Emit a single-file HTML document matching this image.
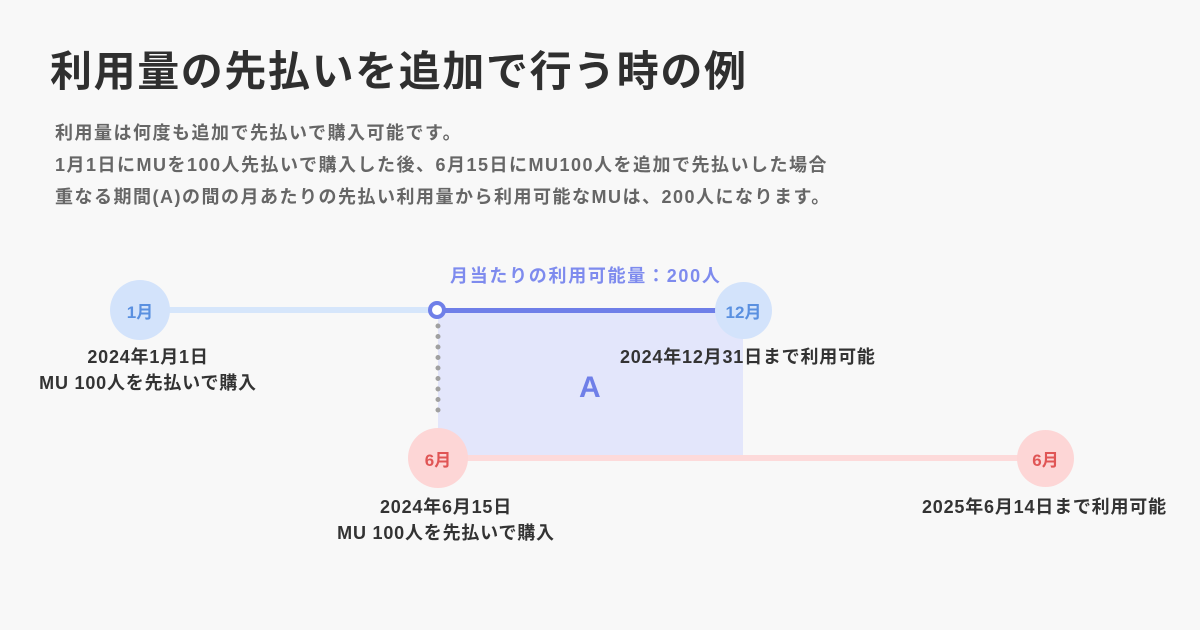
<!DOCTYPE html>
<html><head><meta charset="utf-8"><style>
body{margin:0;width:1200px;height:630px;background:#f8f8f8;font-family:"Liberation Sans","Noto Sans CJK JP",sans-serif;overflow:hidden;position:relative}
.a{position:absolute;white-space:nowrap}
h1{position:absolute;left:50px;top:38px;margin:0;font-size:42px;letter-spacing:1.6px;font-weight:bold;color:#2f2f2f}
.p{left:55px;font-size:18px;letter-spacing:1.5px;font-weight:bold;color:#666}
.c{position:absolute;border-radius:50%;display:flex;align-items:center;justify-content:center;font-weight:bold;font-size:17px}
.l{font-size:18px;letter-spacing:0.8px;font-weight:bold;color:#333;text-align:center;line-height:26px}
</style></head><body>
<h1>利用量の先払いを追加で行う時の例</h1>
<div class="a p" style="top:119px">利用量は何度も追加で先払いで購入可能です。</div>
<div class="a p" style="top:151px">1月1日にMUを100人先払いで購入した後、6月15日にMU100人を追加で先払いした場合</div>
<div class="a p" style="top:183px">重なる期間(A)の間の月あたりの先払い利用量から利用可能なMUは、200人になります。</div>

<div class="a" style="left:438px;top:312px;width:305px;height:146px;background:#e3e6fb"></div>
<div class="a" style="left:160px;top:307px;width:280px;height:6px;background:#d6e6fb"></div>
<div class="a" style="left:440px;top:308px;width:290px;height:5px;background:#6f7fe8"></div>
<div class="a" style="left:460px;top:455px;width:570px;height:6px;background:#fddada"></div>
<svg class="a" style="left:432px;top:320px" width="12" height="100"><line x1="6" y1="6" x2="6" y2="96" stroke="#a0a0a0" stroke-width="5" stroke-linecap="round" stroke-dasharray="0 10.5"/></svg>
<div class="a" style="left:428px;top:301px;width:10px;height:10px;border:4px solid #6f7fe8;border-radius:50%;background:#fff"></div>

<div class="c" style="left:110px;top:280px;width:60px;height:60px;background:#d3e3fb;color:#5a90e0">1月</div>
<div class="c" style="left:715px;top:282px;width:57px;height:57px;background:#d3e3fb;color:#5a90e0">12月</div>
<div class="c" style="left:408px;top:428px;width:60px;height:60px;background:#fdd6d6;color:#e05555">6月</div>
<div class="c" style="left:1017px;top:430px;width:57px;height:57px;background:#fdd6d6;color:#e05555">6月</div>

<div class="a" style="left:450px;top:262px;font-size:18px;letter-spacing:1.7px;font-weight:bold;color:#7e8bee">月当たりの利用可能量：200人</div>
<div class="a" style="left:579px;top:371px;font-size:30px;font-weight:bold;color:#6f7fe8">A</div>
<div class="a l" style="left:18px;top:344px;width:260px">2024年1月1日<br>MU 100人を先払いで購入</div>
<div class="a l" style="left:620px;top:344px">2024年12月31日まで利用可能</div>
<div class="a l" style="left:316px;top:494px;width:260px">2024年6月15日<br>MU 100人を先払いで購入</div>
<div class="a l" style="left:922px;top:494px">2025年6月14日まで利用可能</div>
</body></html>
